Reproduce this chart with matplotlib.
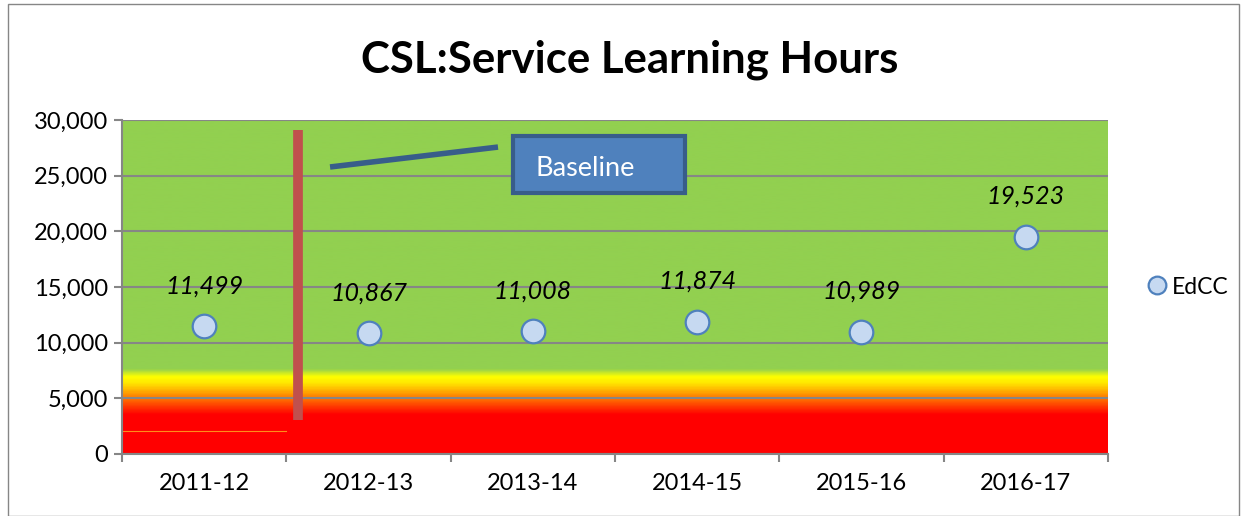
import matplotlib
matplotlib.use("Agg")
import matplotlib.pyplot as plt
import numpy as np
from matplotlib.colors import LinearSegmentedColormap
from matplotlib.patches import Rectangle

categories = ["2011-12", "2012-13", "2013-14", "2014-15", "2015-16", "2016-17"]
values = [11499, 10867, 11008, 11874, 10989, 19523]
labels = ["11,499", "10,867", "11,008", "11,874", "10,989", "19,523"]
series_name = "EdCC"
yticks = [0, 5000, 10000, 15000, 20000, 25000, 30000]

plt.rcParams['font.family'] = ['Lato', 'DejaVu Sans']

fig = plt.figure(figsize=(12.47, 5.16), dpi=100)
ax = fig.add_axes([122/1247, 1-454/516, 986/1247, 334/516])

# gradient background
ymax = 30000
stops = [(0, "#ff0000"), (3500/ymax, "#ff0000"), (5100/ymax, "#ff8000"),
         (6300/ymax, "#ffe600"), (6900/ymax, "#ffff00"), (7600/ymax, "#92d050"), (1.0, "#92d050")]
cmap = LinearSegmentedColormap.from_list("bg", stops)
grad = np.linspace(0, 1, 600).reshape(-1, 1)
ax.imshow(grad, aspect="auto", cmap=cmap, origin="lower",
          extent=[-0.5, 5.5, 0, ymax], zorder=0)

ax.set_xlim(-0.5, 5.5)
ax.set_ylim(0, ymax)
ax.set_yticks(yticks)
ax.set_yticklabels([f"{v:,}" for v in yticks], fontsize=17)
ax.set_xticks(range(len(categories)))
ax.set_xticklabels(categories, fontsize=17)
ax.set_xticks(np.arange(-0.5, 6, 1), minor=True)
ax.tick_params(axis="x", which="major", length=0, pad=14)
ax.tick_params(axis="x", which="minor", length=6, color="#868686", width=1.5)
ax.tick_params(axis="y", length=6, color="#868686", width=1.5, pad=4)
ax.yaxis.grid(True, color="#868686", linewidth=1.5, zorder=1)
ax.set_axisbelow(False)
for s in ["top", "right"]:
    ax.spines[s].set_visible(False)
for s in ["left", "bottom"]:
    ax.spines[s].set_color("#868686")
    ax.spines[s].set_linewidth(1.5)

# thin orange line
ax.plot([-0.5, 0.5], [2070, 2070], color="#ff8c1a", linewidth=0.8, zorder=2)

# red baseline vertical
ax.plot([0.57, 0.57], [3050, 29100], color="#c0504d", linewidth=7, solid_capstyle="butt", zorder=3)

# blue connector line
ax.plot([0.766, 1.788], [25780, 27570], color="#385d8a", linewidth=4, solid_capstyle="butt", zorder=3)

# Baseline box
x0 = (513-122)/986*6 - 0.5
x1 = (685-122)/986*6 - 0.5
y0 = (454-193)/334*ymax
y1 = (454-136)/334*ymax
ax.add_patch(Rectangle((x0, y0), x1-x0, y1-y0, facecolor="#4f81bd", edgecolor="#385d8a",
                       linewidth=3, zorder=4))
ax.text(x0 + (x1-x0)*0.42, (y0+y1)/2 - 400, "Baseline", color="white", fontsize=19.5,
        ha="center", va="center", zorder=5)

# data points
xs = np.arange(len(categories))
ax.plot(xs, values, linestyle="none", marker="o", markersize=17,
        markerfacecolor="#c6d9f1", markeredgecolor="#4f81bd", markeredgewidth=1.6,
        zorder=6, label=series_name)
for x, v, l in zip(xs, values, labels):
    ax.annotate(l, (x, v), xytext=(0, 29), textcoords="offset points",
                ha="center", va="center", fontsize=18, style="italic", zorder=7)

ax.legend(loc="center left", bbox_to_anchor=((1146-122)/986, 0.5), frameon=False,
          fontsize=16.5, handletextpad=0.15, handlelength=1.0, borderpad=0,
          borderaxespad=0, markerscale=0.75)

fig.text(630/1247, 1-60/516, "CSL:Service Learning Hours", ha="center", va="center",
         fontsize=31.5, fontweight="bold")

fig.patches.append(Rectangle((8/1247, 0), 1-16/1247, 1-4/516, transform=fig.transFigure,
                             fill=False, edgecolor="#868686", linewidth=1))

fig.savefig("out.png", dpi=100)
